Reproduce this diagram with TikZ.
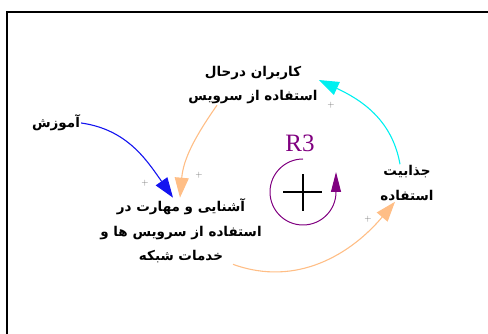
\documentclass[tikz,border=0pt]{standalone}
\usepackage{fontspec}
\usepackage{tikz}
\usetikzlibrary{arrows.meta, positioning}
\TeXXeTstate=1
\newfontfamily\fafont[Script=Arabic]{DejaVu Sans}
\newfontfamily\loopfont{Liberation Serif}
\definecolor{cldPurple}{HTML}{800080}
\definecolor{cldPeach}{HTML}{FFBE86}
\definecolor{cldCyan}{HTML}{00F0F0}
\definecolor{cldBlue}{HTML}{1414F0}

\begin{document}
\begin{tikzpicture}[x=1pt, y=1pt,
  var/.style={align=center, font=\fafont\bfseries\fontsize{13.5}{24.5}\selectfont, inner sep=1pt},
  link/.style={draw=#1, line width=1.1pt, -{Triangle[length=20pt,width=14pt,fill=#1]}},
  pol/.style={font=\small, text=black!55, inner sep=0pt},
]
  \useasboundingbox (0,0) rectangle (488,334);
  \draw[line width=1.5pt] (7,0) |- (488,322);

  \node[var] (users) at (253,249) {\beginR کاربران درحال\endR\\\beginR استفاده از سرویس\endR};
  \node[var] (edu) at (56,211) {\beginR آموزش\endR};
  \node[var] (skill) at (181,103) {\beginR آشنایی و مهارت در\endR\\\beginR استفاده از سرویس ها و\endR\\\beginR خدمات شبکه\endR};
  \node[var] (attr) at (407,151) {\beginR جذابیت\endR\\\beginR استفاده\endR};

  \node[pol] (p1) at (331,229) {+};
  \node[pol] (p2) at (145,151) {+};
  \node[pol] (p3) at (199,159) {+};
  \node[pol] (p4) at (368,115) {+};

  \coordinate (loop) at (303,142);
  \node[text=cldPurple, font=\loopfont\fontsize{25}{25}\selectfont] (r3) at (300,191) {R3};
  \draw[cldPurple, line width=1pt, -{Triangle[length=20pt,width=10pt]}]
    ([shift={(90:33)}]loop) arc[start angle=90, end angle=360, radius=33] -- ++(0,20);
  \draw[line width=1.8pt] ([xshift=-20pt]loop) -- ([xshift=19pt]loop);
  \draw[line width=1.8pt] ([yshift=-19pt]loop) -- ([yshift=18pt]loop);

  \draw[link=cldBlue] (edu.east) to[out=-8, in=125] ([xshift=-8pt]skill.north);
  \draw[link=cldPeach] ([xshift=-36pt]users.south) to[out=-125, in=85] ([xshift=-1pt]skill.north);
  \draw[link=cldCyan] ([xshift=-7pt]attr.north) to[out=100, in=-25] ([yshift=5pt]users.east);
  \draw[link=cldPeach] ([xshift=52pt]skill.south) to[out=-20, in=-130] ([xshift=-12pt]attr.south);
\end{tikzpicture}
\end{document}
